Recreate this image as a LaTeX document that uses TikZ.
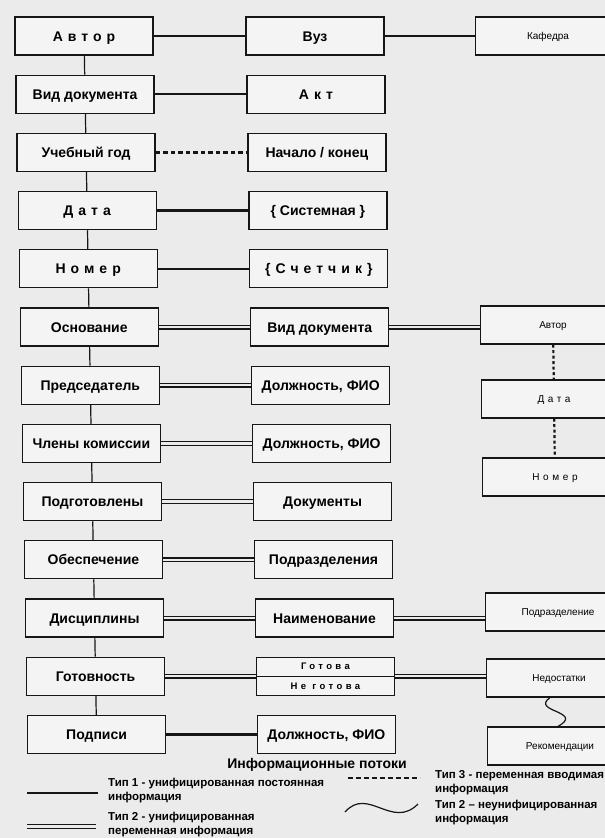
\documentclass[tikz,border=0pt]{standalone}
\usepackage{fontspec}
\setmainfont{Liberation Sans}
\newfontfamily\spacedfont[LetterSpace=36]{Liberation Sans}
\usetikzlibrary{calc}
\definecolor{ScanGray}{HTML}{EBEBEB}
\definecolor{BoxWhite}{HTML}{F4F4F4}
\definecolor{InkBlack}{HTML}{161616}

\tikzset{
  docbox/.style={draw=InkBlack,line width=1.3pt,fill=BoxWhite,minimum width=138pt,
    minimum height=38pt,inner sep=2pt,text height=12pt,text depth=2pt,
    font=\fontsize{14}{16}\selectfont\bfseries},
  attrbox/.style={docbox,minimum width=145pt,text height=8.7pt,text depth=1.5pt,
    font=\fontsize{10}{12}\selectfont},
  halfbox/.style={inner sep=0pt,font=\fontsize{9.5}{11}\selectfont\bfseries\spacedfont},
  legtext/.style={anchor=west,align=left,inner sep=0pt,font=\fontsize{11.5}{14}\selectfont\bfseries},
  chain/.style={draw=InkBlack,line width=1.2pt},
  flowone/.style={draw=InkBlack,line width=2.4pt},
  flowtwo/.style={draw=InkBlack,double=ScanGray,line width=1.3pt,double distance=2.4pt},
  flowthree/.style={draw=InkBlack,line width=2.2pt,dash pattern=on 4.5pt off 3pt},
  flowdots/.style={draw=InkBlack,line width=2.2pt,dash pattern=on 3pt off 2.5pt},
}

\begin{document}
\begin{tikzpicture}[x=1pt,y=-1pt]
  \clip (0,0) rectangle (605,838);
  \fill[ScanGray] (0,0) rectangle (605,838);
  % document fields and their values
  \foreach \i/\l/\m/\f in {%
      0/{\spacedfont Автор}/Вуз/flowone,
      1/Вид документа/{\spacedfont Акт}/flowone,
      2/Учебный год/{Начало / конец}/flowthree,
      3/{\spacedfont Дата}/{\{ Системная \}}/flowone,
      4/{\spacedfont Номер}/{\spacedfont\{Счетчик\}}/flowone,
      5/Основание/Вид документа/flowtwo,
      6/Председатель/{Должность, ФИО}/flowtwo,
      7/Члены комиссии/{Должность, ФИО}/flowtwo,
      8/Подготовлены/Документы/flowtwo,
      9/Обеспечение/Подразделения/flowtwo,
      10/Дисциплины/Наименование/flowtwo,
      11/Готовность/{}/flowtwo,
      12/Подписи/{Должность, ФИО}/flowone} {
    \node[docbox] (l\i) at ({84+1.05*\i},{36+58.2*\i}) {\l};
    \node[docbox] (m\i) at ({315+0.95*\i},{36+58.2*\i}) {\m};
    \draw[\f] (l\i) -- (m\i);
  }
  \foreach \i [count=\j] in {0,...,11}
    \draw[chain] (l\i) -- (l\j);

  % split value box
  \draw[InkBlack,line width=1.3pt] (m11.west) -- (m11.east);
  \node[halfbox] (m11a) at ($(m11.center)+(0,-9.7)$) {Готова};
  \node[halfbox] (m11b) at ($(m11.center)+(0,9.7)$) {Не готова};

  % right column
  \node[attrbox] (kaf) at (548,36) {Кафедра};
  \draw[flowone] (m0) -- (kaf);
  \node[attrbox] (ra) at (553,325) {Автор};
  \node[attrbox,font=\fontsize{10}{12}\selectfont\spacedfont] (rd) at (554,399) {Дата};
  \node[attrbox,font=\fontsize{10}{12}\selectfont\spacedfont] (rn) at (555,477) {Номер};
  \draw[flowtwo] (m5) -- (m5 -| ra.west);
  \draw[flowdots] (ra) -- (rd);
  \draw[flowdots] (rd) -- (rn);
  \node[attrbox] (rp) at (558,612) {Подразделение};
  \node[attrbox] (rs) at (559,678) {Недостатки};
  \node[attrbox] (rr) at (560,746) {Рекомендации};
  \draw[flowtwo] (m10) -- (m10 -| rp.west);
  \draw[flowtwo] (m11) -- (m11 -| rs.west);
  \draw[chain] ([xshift=-9pt]rs.south) .. controls +(-20,14) and +(27,-15) .. ([xshift=-2pt]rr.north);

  % legend
  \node[font=\fontsize{14}{16}\selectfont\bfseries] (lgtitle) at (317,765) {Информационные потоки};
  \draw[flowone] (27,793) -- (98,793);
  \node[legtext] (lg1) at (108,791) {Тип 1 - унифицированная постоянная\\информация};
  \draw[flowtwo] (27,826.5) -- (96,826.5);
  \node[legtext] (lg2) at (108,825) {Тип 2 - унифицированная\\переменная информация};
  \draw[flowthree,dash pattern=on 5pt off 3pt] (348,778) -- (420,778);
  \node[legtext] (lg3) at (435,783) {Тип 3 - переменная вводимая\\информация};
  \draw[chain] (345,812) .. controls (368,786) and (392,830) .. (418,804);
  \node[legtext] (lg4) at (435,813) {Тип 2 – неунифицированная\\информация};
\end{tikzpicture}
\end{document}
